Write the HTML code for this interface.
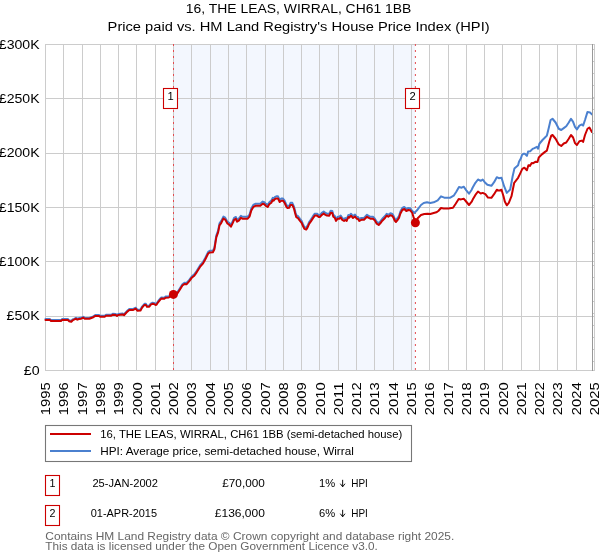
<!DOCTYPE html>
<html><head><meta charset="utf-8"><style>
html,body{margin:0;padding:0;background:#fff;width:600px;height:560px;overflow:hidden}
svg{display:block;will-change:transform}
text{font-family:"Liberation Sans",sans-serif;white-space:pre}
</style></head><body>
<svg width="600" height="560" viewBox="0 0 600 560">
<text x="298.6" y="13" font-size="12.5" text-anchor="middle" fill="#000" textLength="225.5" lengthAdjust="spacingAndGlyphs" >16, THE LEAS, WIRRAL, CH61 1BB</text>
<text x="298.6" y="30.5" font-size="12.5" text-anchor="middle" fill="#000" textLength="382" lengthAdjust="spacingAndGlyphs" >Price paid vs. HM Land Registry&#39;s House Price Index (HPI)</text>
<rect x="174" y="44.5" width="241" height="326.00" fill="#f3f7fe"/>
<g stroke="#cccccc" stroke-width="1" shape-rendering="crispEdges"><line x1="45.5" y1="44" x2="45.5" y2="371"/><line x1="63.5" y1="44" x2="63.5" y2="371"/><line x1="82.5" y1="44" x2="82.5" y2="371"/><line x1="100.5" y1="44" x2="100.5" y2="371"/><line x1="118.5" y1="44" x2="118.5" y2="371"/><line x1="136.5" y1="44" x2="136.5" y2="371"/><line x1="155.5" y1="44" x2="155.5" y2="371"/><line x1="173.5" y1="44" x2="173.5" y2="371"/><line x1="191.5" y1="44" x2="191.5" y2="371"/><line x1="210.5" y1="44" x2="210.5" y2="371"/><line x1="228.5" y1="44" x2="228.5" y2="371"/><line x1="246.5" y1="44" x2="246.5" y2="371"/><line x1="265.5" y1="44" x2="265.5" y2="371"/><line x1="283.5" y1="44" x2="283.5" y2="371"/><line x1="301.5" y1="44" x2="301.5" y2="371"/><line x1="319.5" y1="44" x2="319.5" y2="371"/><line x1="338.5" y1="44" x2="338.5" y2="371"/><line x1="356.5" y1="44" x2="356.5" y2="371"/><line x1="374.5" y1="44" x2="374.5" y2="371"/><line x1="393.5" y1="44" x2="393.5" y2="371"/><line x1="411.5" y1="44" x2="411.5" y2="371"/><line x1="429.5" y1="44" x2="429.5" y2="371"/><line x1="448.5" y1="44" x2="448.5" y2="371"/><line x1="466.5" y1="44" x2="466.5" y2="371"/><line x1="484.5" y1="44" x2="484.5" y2="371"/><line x1="502.5" y1="44" x2="502.5" y2="371"/><line x1="521.5" y1="44" x2="521.5" y2="371"/><line x1="539.5" y1="44" x2="539.5" y2="371"/><line x1="557.5" y1="44" x2="557.5" y2="371"/><line x1="576.5" y1="44" x2="576.5" y2="371"/><line x1="594.5" y1="44" x2="594.5" y2="371"/><line x1="45" y1="44.5" x2="595" y2="44.5"/><line x1="45" y1="98.5" x2="595" y2="98.5"/><line x1="45" y1="153.5" x2="595" y2="153.5"/><line x1="45" y1="207.5" x2="595" y2="207.5"/><line x1="45" y1="261.5" x2="595" y2="261.5"/><line x1="45" y1="316.5" x2="595" y2="316.5"/><line x1="45" y1="370.5" x2="595" y2="370.5"/></g>
<line x1="173.5" y1="44" x2="173.5" y2="370.50" stroke="#e44b4f" stroke-width="1" stroke-dasharray="2 4"/>
<line x1="415.4" y1="44" x2="415.4" y2="370.50" stroke="#e44b4f" stroke-width="1" stroke-dasharray="2 4"/>
<polyline points="45.50,319.09 50.00,319.09 51.00,320.10 61.00,320.10 62.00,319.09 68.00,319.09 69.00,320.30 71.30,320.91 72.70,319.39 74.00,318.79 76.00,317.78 77.30,318.79 79.00,318.08 81.30,317.78 83.30,316.77 84.70,317.88 89.30,317.88 91.30,317.07 93.30,316.36 95.30,314.95 98.70,314.95 100.00,315.76 104.70,315.76 106.00,314.75 111.30,314.75 112.70,313.84 115.70,314.04 117.00,315.05 118.30,314.04 122.70,313.53 124.00,314.24 126.70,311.31 129.30,308.89 133.30,308.89 135.70,307.68 137.30,309.70 140.50,309.59 142.10,306.56 144.50,303.84 145.90,303.84 146.90,305.76 149.30,305.76 150.70,303.64 152.50,302.73 153.90,302.93 155.50,303.84 156.50,303.64 158.10,301.21 160.30,298.48 161.30,297.47 164.30,297.68 165.60,296.56 168.80,296.36 173.50,293.23 177.20,292.63 179.80,288.48 182.40,284.24 184.40,282.73 186.50,283.03 189.10,280.10 191.70,276.46 194.30,274.34 196.80,270.71 200.00,265.45 203.10,261.82 205.10,258.18 208.20,251.92 209.80,250.81 212.90,250.61 214.40,247.68 216.30,235.66 218.10,230.61 219.50,223.43 221.30,220.91 223.40,216.56 225.20,217.68 227.40,221.62 229.10,222.73 230.90,224.85 232.70,221.21 234.10,217.98 235.90,216.97 237.00,219.80 238.80,218.69 240.90,215.86 242.40,216.77 247.70,216.77 249.50,214.75 251.30,208.48 253.30,204.95 255.30,203.74 260.30,203.74 262.70,201.62 264.30,202.22 266.00,203.94 267.70,204.95 269.30,202.22 271.30,200.61 272.70,197.88 273.70,198.58 275.00,196.87 276.30,196.36 278.00,196.36 279.70,199.90 281.30,198.58 283.00,198.58 284.70,200.91 286.30,204.65 287.30,205.96 289.30,205.66 290.50,202.83 292.30,202.83 294.10,206.87 295.10,211.11 296.20,215.15 298.00,216.16 299.80,218.69 301.60,220.91 303.00,224.14 304.40,227.07 306.20,227.78 307.60,225.55 309.10,222.02 310.90,219.49 313.00,216.16 314.80,213.64 316.90,213.64 318.70,214.95 320.10,214.95 321.60,213.13 323.70,211.51 325.10,212.73 326.90,213.64 329.30,213.74 330.70,210.71 332.30,210.91 333.30,214.75 334.70,215.76 336.00,218.99 337.70,216.77 339.30,216.77 340.70,215.55 342.30,218.08 344.00,219.09 345.30,218.08 346.70,219.09 348.30,215.05 349.30,215.76 351.00,213.74 353.00,216.06 355.00,214.54 356.70,216.77 358.00,217.07 359.30,219.09 361.30,217.88 364.00,217.88 367.00,214.75 368.30,215.76 370.30,216.77 373.00,216.77 374.70,218.38 376.70,221.82 378.70,223.13 380.30,221.41 382.30,218.79 385.00,216.06 386.70,213.74 388.30,214.75 390.30,213.33 392.00,213.74 393.30,215.35 394.70,218.58 396.00,220.10 397.30,218.38 399.00,216.06 400.30,211.72 402.30,207.98 404.30,206.97 406.30,208.99 408.30,207.98 410.30,208.28 412.30,211.01 414.30,213.00 417.00,210.30 421.00,205.00 423.70,203.00 427.00,202.30 430.30,203.00 433.70,202.30 437.70,200.30 441.00,196.30 444.30,197.70 450.30,197.70 453.70,195.70 456.30,191.70 459.00,187.00 461.70,187.70 463.70,186.70 466.30,190.30 469.00,193.70 471.70,189.70 472.70,187.50 475.40,182.80 478.00,179.50 480.70,180.80 482.70,179.50 484.70,182.20 487.40,184.80 491.40,185.80 494.10,182.20 496.80,177.20 498.80,178.20 501.50,177.80 504.10,186.20 506.80,192.90 510.20,189.50 512.60,176.50 514.40,168.60 518.10,165.30 519.00,161.70 520.80,158.60 522.00,155.00 523.50,153.80 524.80,153.80 526.90,155.90 528.10,151.60 530.20,151.30 532.60,148.90 534.40,148.10 536.90,146.90 538.10,148.75 539.40,143.75 542.50,140.00 545.00,137.50 546.90,135.60 548.75,128.10 550.60,120.00 552.50,118.75 555.60,122.50 558.75,128.75 561.25,130.00 563.75,128.10 566.25,126.25 568.75,122.50 571.00,118.75 573.10,121.90 575.00,126.90 576.90,129.40 579.40,125.60 581.90,124.40 583.10,125.60 585.00,120.00 587.50,111.90 590.00,112.50 591.90,114.40" fill="none" stroke="#4b80cf" stroke-width="2" stroke-linejoin="round" stroke-linecap="round"/>
<polyline points="45.50,320.00 50.00,320.00 51.00,321.00 61.00,321.00 62.00,320.00 68.00,320.00 69.00,321.20 71.30,321.80 72.70,320.30 74.00,319.70 76.00,318.70 77.30,319.70 79.00,319.00 81.30,318.70 83.30,317.70 84.70,318.80 89.30,318.80 91.30,318.00 93.30,317.30 95.30,315.90 98.70,315.90 100.00,316.70 104.70,316.70 106.00,315.70 111.30,315.70 112.70,314.80 115.70,315.00 117.00,316.00 118.30,315.00 122.70,314.50 124.00,315.20 126.70,312.30 129.30,309.90 133.30,309.90 135.70,308.70 137.30,310.70 140.50,310.60 142.10,307.60 144.50,304.90 145.90,304.90 146.90,306.80 149.30,306.80 150.70,304.70 152.50,303.80 153.90,304.00 155.50,304.90 156.50,304.70 158.10,302.30 160.30,299.60 161.30,298.60 164.30,298.80 165.60,297.70 168.80,297.50 173.50,294.40 177.20,293.80 179.80,289.70 182.40,285.50 184.40,284.00 186.50,284.30 189.10,281.40 191.70,277.80 194.30,275.70 196.80,272.10 200.00,266.90 203.10,263.30 205.10,259.70 208.20,253.50 209.80,252.40 212.90,252.20 214.40,249.30 216.30,237.40 218.10,232.40 219.50,225.30 221.30,222.80 223.40,218.50 225.20,219.60 227.40,223.50 229.10,224.60 230.90,226.70 232.70,223.10 234.10,219.90 235.90,218.90 237.00,221.70 238.80,220.60 240.90,217.80 242.40,218.70 247.70,218.70 249.50,216.70 251.30,210.50 253.30,207.00 255.30,205.80 260.30,205.80 262.70,203.70 264.30,204.30 266.00,206.00 267.70,207.00 269.30,204.30 271.30,202.70 272.70,200.00 273.70,200.70 275.00,199.00 276.30,198.50 278.00,198.50 279.70,202.00 281.30,200.70 283.00,200.70 284.70,203.00 286.30,206.70 287.30,208.00 289.30,207.70 290.50,204.90 292.30,204.90 294.10,208.90 295.10,213.10 296.20,217.10 298.00,218.10 299.80,220.60 301.60,222.80 303.00,226.00 304.40,228.90 306.20,229.60 307.60,227.40 309.10,223.90 310.90,221.40 313.00,218.10 314.80,215.60 316.90,215.60 318.70,216.90 320.10,216.90 321.60,215.10 323.70,213.50 325.10,214.70 326.90,215.60 329.30,215.70 330.70,212.70 332.30,212.90 333.30,216.70 334.70,217.70 336.00,220.90 337.70,218.70 339.30,218.70 340.70,217.50 342.30,220.00 344.00,221.00 345.30,220.00 346.70,221.00 348.30,217.00 349.30,217.70 351.00,215.70 353.00,218.00 355.00,216.50 356.70,218.70 358.00,219.00 359.30,221.00 361.30,219.80 364.00,219.80 367.00,216.70 368.30,217.70 370.30,218.70 373.00,218.70 374.70,220.30 376.70,223.70 378.70,225.00 380.30,223.30 382.30,220.70 385.00,218.00 386.70,215.70 388.30,216.70 390.30,215.30 392.00,215.70 393.30,217.30 394.70,220.50 396.00,222.00 397.30,220.30 399.00,218.00 400.30,213.70 402.30,210.00 404.30,209.00 406.30,211.00 408.30,210.00 410.30,210.30 412.30,213.00 413.70,217.70 415.40,222.40" fill="none" stroke="#cc0000" stroke-width="2" stroke-linejoin="round" stroke-linecap="round"/>
<polyline points="415.40,222.40 417.70,218.30 421.00,215.00 424.30,214.00 427.70,213.70 430.30,214.00 433.70,213.00 436.30,212.30 438.30,211.00 441.00,208.00 443.70,208.60 448.30,208.60 453.00,207.70 455.70,203.70 458.70,199.00 461.00,199.40 463.70,198.70 465.70,201.00 469.00,205.00 471.70,201.70 472.70,199.60 475.40,194.90 478.00,191.50 480.70,193.50 482.70,192.90 485.40,194.20 488.00,197.60 491.40,197.80 494.10,194.20 496.80,189.80 498.80,190.60 501.50,189.80 503.50,196.20 504.80,201.60 506.80,205.30 508.80,202.90 511.50,196.20 514.20,182.80 518.10,177.80 519.90,174.10 522.30,168.90 524.40,167.70 526.90,170.20 528.40,165.30 529.90,165.90 531.70,162.90 533.30,163.20 535.70,161.70 537.50,161.90 538.75,157.50 541.90,154.40 545.00,151.90 546.90,150.60 549.40,141.25 551.25,135.60 552.50,135.00 555.60,138.75 558.75,144.40 561.25,146.00 563.75,143.50 566.25,142.50 568.75,138.75 571.00,135.00 573.10,137.50 575.00,143.10 576.90,145.00 579.40,141.25 581.90,140.60 583.10,141.90 585.00,135.00 587.50,128.75 589.40,127.50 591.90,131.90" fill="none" stroke="#cc0000" stroke-width="2" stroke-linejoin="round" stroke-linecap="round"/>
<line x1="592.5" y1="44" x2="592.5" y2="371" stroke="#999" stroke-width="1"/>
<line x1="593.5" y1="49" x2="593.5" y2="371" stroke="#c8c8c8" stroke-width="1" stroke-dasharray="1 11"/>
<circle cx="173.4" cy="294.43" r="4.5" fill="#cc0000"/>
<circle cx="415.4" cy="222.71" r="4.5" fill="#cc0000"/>
<rect x="163.5" y="88.5" width="14" height="20" fill="#fff" stroke="#cc0000" stroke-width="1.1"/>
<text x="170.7" y="100" font-size="11.2" text-anchor="middle" fill="#000" >1</text>
<rect x="405.5" y="88.5" width="14" height="20" fill="#fff" stroke="#cc0000" stroke-width="1.1"/>
<text x="412.7" y="100" font-size="11.2" text-anchor="middle" fill="#000" >2</text>
<text x="39.6" y="374.80" font-size="12.2" text-anchor="end" fill="#000" textLength="15.8" lengthAdjust="spacingAndGlyphs" >£0</text>
<text x="39.6" y="320.47" font-size="12.2" text-anchor="end" fill="#000" textLength="33" lengthAdjust="spacingAndGlyphs" >£50K</text>
<text x="39.6" y="266.13" font-size="12.2" text-anchor="end" fill="#000" textLength="40.8" lengthAdjust="spacingAndGlyphs" >£100K</text>
<text x="39.6" y="211.80" font-size="12.2" text-anchor="end" fill="#000" textLength="40.8" lengthAdjust="spacingAndGlyphs" >£150K</text>
<text x="39.6" y="157.47" font-size="12.2" text-anchor="end" fill="#000" textLength="40.8" lengthAdjust="spacingAndGlyphs" >£200K</text>
<text x="39.6" y="103.13" font-size="12.2" text-anchor="end" fill="#000" textLength="40.8" lengthAdjust="spacingAndGlyphs" >£250K</text>
<text x="39.6" y="48.80" font-size="12.2" text-anchor="end" fill="#000" textLength="40.8" lengthAdjust="spacingAndGlyphs" >£300K</text>
<text transform="translate(50.00,382.2) rotate(-90)" x="0" y="0" font-size="12.6" text-anchor="end" textLength="33" lengthAdjust="spacingAndGlyphs">1995</text>
<text transform="translate(68.30,382.2) rotate(-90)" x="0" y="0" font-size="12.6" text-anchor="end" textLength="33" lengthAdjust="spacingAndGlyphs">1996</text>
<text transform="translate(86.60,382.2) rotate(-90)" x="0" y="0" font-size="12.6" text-anchor="end" textLength="33" lengthAdjust="spacingAndGlyphs">1997</text>
<text transform="translate(104.90,382.2) rotate(-90)" x="0" y="0" font-size="12.6" text-anchor="end" textLength="33" lengthAdjust="spacingAndGlyphs">1998</text>
<text transform="translate(123.20,382.2) rotate(-90)" x="0" y="0" font-size="12.6" text-anchor="end" textLength="33" lengthAdjust="spacingAndGlyphs">1999</text>
<text transform="translate(141.50,382.2) rotate(-90)" x="0" y="0" font-size="12.6" text-anchor="end" textLength="33" lengthAdjust="spacingAndGlyphs">2000</text>
<text transform="translate(159.80,382.2) rotate(-90)" x="0" y="0" font-size="12.6" text-anchor="end" textLength="33" lengthAdjust="spacingAndGlyphs">2001</text>
<text transform="translate(178.10,382.2) rotate(-90)" x="0" y="0" font-size="12.6" text-anchor="end" textLength="33" lengthAdjust="spacingAndGlyphs">2002</text>
<text transform="translate(196.40,382.2) rotate(-90)" x="0" y="0" font-size="12.6" text-anchor="end" textLength="33" lengthAdjust="spacingAndGlyphs">2003</text>
<text transform="translate(214.70,382.2) rotate(-90)" x="0" y="0" font-size="12.6" text-anchor="end" textLength="33" lengthAdjust="spacingAndGlyphs">2004</text>
<text transform="translate(233.00,382.2) rotate(-90)" x="0" y="0" font-size="12.6" text-anchor="end" textLength="33" lengthAdjust="spacingAndGlyphs">2005</text>
<text transform="translate(251.30,382.2) rotate(-90)" x="0" y="0" font-size="12.6" text-anchor="end" textLength="33" lengthAdjust="spacingAndGlyphs">2006</text>
<text transform="translate(269.60,382.2) rotate(-90)" x="0" y="0" font-size="12.6" text-anchor="end" textLength="33" lengthAdjust="spacingAndGlyphs">2007</text>
<text transform="translate(287.90,382.2) rotate(-90)" x="0" y="0" font-size="12.6" text-anchor="end" textLength="33" lengthAdjust="spacingAndGlyphs">2008</text>
<text transform="translate(306.20,382.2) rotate(-90)" x="0" y="0" font-size="12.6" text-anchor="end" textLength="33" lengthAdjust="spacingAndGlyphs">2009</text>
<text transform="translate(324.50,382.2) rotate(-90)" x="0" y="0" font-size="12.6" text-anchor="end" textLength="33" lengthAdjust="spacingAndGlyphs">2010</text>
<text transform="translate(342.80,382.2) rotate(-90)" x="0" y="0" font-size="12.6" text-anchor="end" textLength="33" lengthAdjust="spacingAndGlyphs">2011</text>
<text transform="translate(361.10,382.2) rotate(-90)" x="0" y="0" font-size="12.6" text-anchor="end" textLength="33" lengthAdjust="spacingAndGlyphs">2012</text>
<text transform="translate(379.40,382.2) rotate(-90)" x="0" y="0" font-size="12.6" text-anchor="end" textLength="33" lengthAdjust="spacingAndGlyphs">2013</text>
<text transform="translate(397.70,382.2) rotate(-90)" x="0" y="0" font-size="12.6" text-anchor="end" textLength="33" lengthAdjust="spacingAndGlyphs">2014</text>
<text transform="translate(416.00,382.2) rotate(-90)" x="0" y="0" font-size="12.6" text-anchor="end" textLength="33" lengthAdjust="spacingAndGlyphs">2015</text>
<text transform="translate(434.30,382.2) rotate(-90)" x="0" y="0" font-size="12.6" text-anchor="end" textLength="33" lengthAdjust="spacingAndGlyphs">2016</text>
<text transform="translate(452.60,382.2) rotate(-90)" x="0" y="0" font-size="12.6" text-anchor="end" textLength="33" lengthAdjust="spacingAndGlyphs">2017</text>
<text transform="translate(470.90,382.2) rotate(-90)" x="0" y="0" font-size="12.6" text-anchor="end" textLength="33" lengthAdjust="spacingAndGlyphs">2018</text>
<text transform="translate(489.20,382.2) rotate(-90)" x="0" y="0" font-size="12.6" text-anchor="end" textLength="33" lengthAdjust="spacingAndGlyphs">2019</text>
<text transform="translate(507.50,382.2) rotate(-90)" x="0" y="0" font-size="12.6" text-anchor="end" textLength="33" lengthAdjust="spacingAndGlyphs">2020</text>
<text transform="translate(525.80,382.2) rotate(-90)" x="0" y="0" font-size="12.6" text-anchor="end" textLength="33" lengthAdjust="spacingAndGlyphs">2021</text>
<text transform="translate(544.10,382.2) rotate(-90)" x="0" y="0" font-size="12.6" text-anchor="end" textLength="33" lengthAdjust="spacingAndGlyphs">2022</text>
<text transform="translate(562.40,382.2) rotate(-90)" x="0" y="0" font-size="12.6" text-anchor="end" textLength="33" lengthAdjust="spacingAndGlyphs">2023</text>
<text transform="translate(580.70,382.2) rotate(-90)" x="0" y="0" font-size="12.6" text-anchor="end" textLength="33" lengthAdjust="spacingAndGlyphs">2024</text>
<text transform="translate(599.00,382.2) rotate(-90)" x="0" y="0" font-size="12.6" text-anchor="end" textLength="33" lengthAdjust="spacingAndGlyphs">2025</text>
<rect x="45.5" y="425.5" width="366" height="36" fill="#fff" stroke="#777" stroke-width="1.1"/>
<line x1="50" y1="434" x2="91" y2="434" stroke="#cc0000" stroke-width="2.2"/>
<line x1="50" y1="451" x2="91" y2="451" stroke="#4b80cf" stroke-width="2.2"/>
<text x="100.3" y="438" font-size="11.2" text-anchor="start" fill="#000" textLength="302" lengthAdjust="spacingAndGlyphs" >16, THE LEAS, WIRRAL, CH61 1BB (semi-detached house)</text>
<text x="100.3" y="455" font-size="11.2" text-anchor="start" fill="#000" textLength="253.5" lengthAdjust="spacingAndGlyphs" >HPI: Average price, semi-detached house, Wirral</text>
<rect x="45.5" y="475.5" width="14" height="20" fill="none" stroke="#cc0000" stroke-width="1.1"/>
<text x="52.5" y="487.0" font-size="10.7" text-anchor="middle" fill="#000" >1</text>
<text x="125.2" y="487.0" font-size="10.7" text-anchor="middle" fill="#000" textLength="65.5" lengthAdjust="spacingAndGlyphs" >25-JAN-2002</text>
<text x="264.8" y="487.0" font-size="10.7" text-anchor="end" fill="#000" textLength="42.5" lengthAdjust="spacingAndGlyphs" >£70,000</text>
<text x="319.1" y="487.0" font-size="10.7" text-anchor="start" fill="#000" textLength="16.2" lengthAdjust="spacingAndGlyphs" >1%</text>
<path d="M342.65 479.80 V486.80 M340.3 483.70 L342.65 486.80 L345 483.70" fill="none" stroke="#000" stroke-width="0.95"/>
<text x="351.3" y="487.0" font-size="10.7" text-anchor="start" fill="#000" textLength="16.6" lengthAdjust="spacingAndGlyphs" >HPI</text>
<rect x="45.5" y="505.5" width="14" height="20" fill="none" stroke="#cc0000" stroke-width="1.1"/>
<text x="52.5" y="517.0" font-size="10.7" text-anchor="middle" fill="#000" >2</text>
<text x="123.9" y="517.0" font-size="10.7" text-anchor="middle" fill="#000" textLength="66.3" lengthAdjust="spacingAndGlyphs" >01-APR-2015</text>
<text x="264.8" y="517.0" font-size="10.7" text-anchor="end" fill="#000" textLength="50" lengthAdjust="spacingAndGlyphs" >£136,000</text>
<text x="319.1" y="517.0" font-size="10.7" text-anchor="start" fill="#000" textLength="16.2" lengthAdjust="spacingAndGlyphs" >6%</text>
<path d="M342.65 509.80 V516.80 M340.3 513.70 L342.65 516.80 L345 513.70" fill="none" stroke="#000" stroke-width="0.95"/>
<text x="351.3" y="517.0" font-size="10.7" text-anchor="start" fill="#000" textLength="16.6" lengthAdjust="spacingAndGlyphs" >HPI</text>
<text x="45.3" y="540" font-size="10.5" text-anchor="start" fill="#666" textLength="409" lengthAdjust="spacingAndGlyphs" >Contains HM Land Registry data © Crown copyright and database right 2025.</text>
<text x="45.3" y="549.5" font-size="10.5" text-anchor="start" fill="#666" textLength="332.5" lengthAdjust="spacingAndGlyphs" >This data is licensed under the Open Government Licence v3.0.</text>
</svg></body></html>
